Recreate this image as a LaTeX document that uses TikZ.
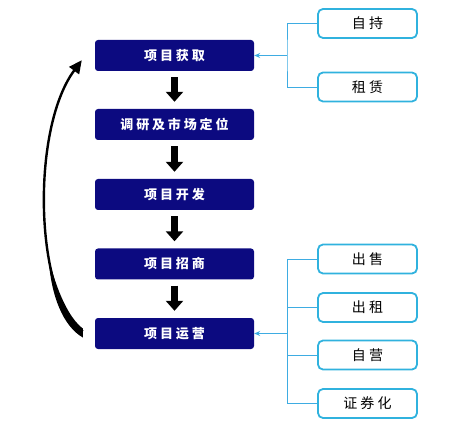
\documentclass[tikz,border=0pt]{standalone}
\usepackage{fontspec}
\newfontfamily\cjk{Noto Sans CJK SC}
\newfontfamily\cjkwide[LetterSpace=22]{Noto Sans CJK SC}
\usetikzlibrary{arrows.meta,calc}
\definecolor{navy}{RGB}{12,10,128}
\definecolor{sky}{RGB}{48,178,222}
\definecolor{skyline}{RGB}{62,172,226}

\begin{document}
\begin{tikzpicture}[x=1pt,y=-1pt,
  stage/.style={draw=none, fill=navy, rounded corners=3pt, minimum width=159pt, minimum height=31pt, inner sep=0pt, text=white, font=\cjkwide\fontsize{13}{13}\selectfont\bfseries},
  opt/.style={draw=sky, line width=1.8pt, fill=white, rounded corners=5pt, minimum width=99pt, minimum height=29pt, inner sep=0pt, font=\cjkwide\fontsize{14}{14}\selectfont},
  blk/.style={-{Triangle[length=10pt,width=17pt]}, line width=7.5pt, shorten <=6pt, shorten >=7pt},
  br/.style={draw=skyline, line width=0.9pt},
  brarr/.style={br, -{Stealth[length=6pt,width=5pt]}},
  ret/.style={-{Triangle[length=13pt,width=12pt]}, line width=2.4pt}
]
\useasboundingbox (0,0) rectangle (460,427);
% main chain
\node[stage] (b1) at (174.5,55.5) {项目获取};
\node[stage] (b2) at (174.5,124.5) {调研及市场定位};
\node[stage] (b3) at (174.5,194.5) {项目开发};
\node[stage] (b4) at (174.5,264) {项目招商};
\node[stage] (b5) at (174.5,333.5) {项目运营};
% right options
\node[opt] (r1) at (367.5,23.5) {自持};
\node[opt] (r2) at (367.5,87) {租赁};
\node[opt] (r3) at (367.5,259) {出售};
\node[opt] (r4) at (367.5,307.5) {出租};
\node[opt] (r5) at (367.5,355) {自营};
\node[opt] (r6) at (367.5,403.5) {证券化};
% down arrows
\foreach \a/\b in {b1/b2,b2/b3,b3/b4,b4/b5} \draw[blk] (\a.south) -- (\b.north);
% brackets
\coordinate (jt) at (287,55.5);
\coordinate (jb) at (287,333.5);
\draw[br] (r1.west) -| (jt) |- (r2.west);
\draw[brarr] (jt) -- (b1.east);
\draw[br] (r3.west) -- ++(-30,0) |- (r6.west);
\foreach \n in {r4,r5} \draw[br] (\n.west) -- ++(-30,0);
\draw[brarr] (jb) -- (b5.east);
% loop back
\coordinate (lb) at ($(b5.west)+(-12,-2)$);
\coordinate (lt) at ($(b1.south west)+(-13,-11)$);
\draw[ret] (lb) .. controls (35,300) and (30,130) .. (lt);
\fill ($(lb)+(0,6)$) .. controls (63,326) and (51,296) .. (48.5,257.8)
  .. controls (57,292) and (69,318) .. ($(lb)+(0,-3)$) -- cycle;
\end{tikzpicture}
\end{document}
